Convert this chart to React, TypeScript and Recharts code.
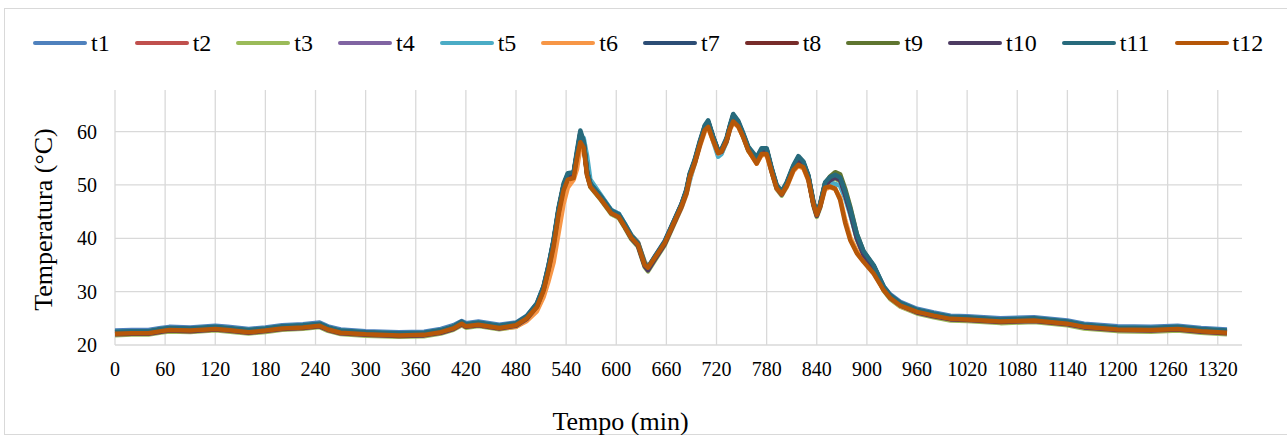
import React from "react";
import { LineChart, Line, XAxis, YAxis, CartesianGrid, Label } from "recharts";

const minutes = [
  0, 20, 40, 55, 65, 90, 120, 135, 160, 180, 200, 225, 245, 255, 270, 300, 340, 370, 390, 405, 415, 420, 435, 460, 480,
  493, 505, 513, 519, 525, 531, 537, 542, 549, 553, 557, 561, 565, 569, 582, 594, 603, 610, 618, 626, 634, 638, 646, 658, 678,
  684, 688, 694, 700, 706, 710, 716, 722, 726, 732, 736, 740, 746, 752, 758, 768, 774, 780, 786, 792, 798, 804, 812, 818, 824,
  830, 836, 840, 844, 850, 856, 862, 868, 874, 880, 888, 896, 908, 920, 928, 940, 960, 980, 1000, 1020, 1060, 1100, 1140, 1160, 1200,
  1240, 1272, 1300, 1331,
];

const t1 = [
  22.7, 22.8, 22.8, 23.2, 23.4, 23.3, 23.6, 23.4, 23.0, 23.3, 23.7, 23.9, 24.2, 23.5, 22.9, 22.6, 22.4, 22.5, 23.0, 23.7, 24.5, 24.1, 24.4, 23.8, 24.2,
  25.5, 27.8, 31.0, 35.0, 39.6, 45.4, 49.8, 51.8, 52.1, 55.8, 59.5, 58.2, 52.8, 50.4, 47.9, 45.3, 44.6, 42.8, 40.6, 39.2, 35.4, 34.6, 36.6, 39.5, 46.4,
  48.8, 51.6, 54.3, 57.7, 60.7, 61.6, 58.6, 55.9, 56.2, 58.3, 60.8, 62.8, 61.6, 59.3, 56.9, 54.8, 56.5, 56.5, 52.8, 49.6, 48.5, 50.1, 53.2, 54.9, 54.0,
  51.4, 46.6, 44.6, 46.1, 50.0, 51.0, 51.3, 50.8, 48.0, 44.9, 40.2, 37.3, 34.9, 31.0, 29.5, 28.1, 26.8, 26.1, 25.5, 25.4, 25.0, 25.2, 24.6, 24.0, 23.5,
  23.4, 23.6, 23.2, 22.9,
];
const t2 = [
  22.3, 22.4, 22.4, 22.8, 23.0, 22.9, 23.2, 23.0, 22.6, 22.9, 23.3, 23.5, 23.8, 23.1, 22.5, 22.2, 22.0, 22.1, 22.6, 23.3, 24.2, 23.7, 24.0, 23.4, 23.9,
  25.2, 27.5, 30.7, 34.6, 39.3, 45.2, 49.8, 51.8, 52.1, 55.7, 59.4, 57.8, 52.3, 50.0, 47.5, 45.0, 44.3, 42.5, 40.3, 38.9, 35.1, 34.3, 36.3, 39.2, 46.2,
  48.8, 51.8, 54.5, 57.8, 60.8, 61.7, 58.8, 56.2, 56.4, 58.4, 60.8, 62.8, 61.6, 59.3, 56.8, 54.8, 56.5, 56.5, 52.8, 49.6, 48.4, 50.1, 53.3, 55.0, 54.0,
  51.4, 46.5, 44.5, 46.2, 50.1, 51.1, 51.6, 51.1, 48.3, 45.1, 40.2, 37.1, 34.6, 30.6, 29.0, 27.6, 26.3, 25.6, 25.0, 24.9, 24.5, 24.7, 24.1, 23.5, 23.0,
  22.9, 23.1, 22.7, 22.4,
];
const t3 = [
  21.85, 21.95, 21.95, 22.35, 22.55, 22.45, 22.75, 22.55, 22.15, 22.45, 22.85, 23.05, 23.35, 22.65, 22.05, 21.75, 21.55, 21.65, 22.15, 22.85, 23.7, 23.25, 23.55, 22.95, 23.4,
  24.7, 26.9, 30.0, 33.9, 38.6, 44.6, 49.3, 51.4, 51.8, 55.3, 59.0, 57.5, 52.0, 49.6, 47.1, 44.5, 43.8, 42.0, 39.8, 38.4, 34.6, 33.8, 35.8, 38.7, 45.7,
  48.4, 51.4, 54.0, 57.4, 60.4, 61.3, 58.4, 55.8, 56.0, 58.0, 60.4, 62.5, 61.2, 58.9, 56.4, 54.4, 56.1, 56.1, 52.4, 49.2, 48.0, 49.7, 52.9, 54.6, 53.6,
  51.0, 46.1, 44.0, 45.7, 49.7, 50.7, 51.2, 50.7, 47.9, 44.7, 39.8, 36.7, 34.2, 30.2, 28.6, 27.2, 25.9, 25.2, 24.6, 24.5, 24.1, 24.3, 23.7, 23.1, 22.6,
  22.5, 22.7, 22.3, 22.0,
];
const t4 = [
  22.1, 22.2, 22.2, 22.6, 22.8, 22.7, 23.0, 22.8, 22.4, 22.7, 23.1, 23.3, 23.6, 22.9, 22.3, 22.0, 21.8, 21.9, 22.4, 23.1, 24.0, 23.5, 23.8, 23.2, 23.7,
  25.0, 27.3, 30.5, 34.4, 39.1, 45.0, 49.6, 51.6, 51.9, 55.5, 59.2, 57.6, 52.1, 49.8, 47.3, 44.8, 44.1, 42.3, 40.1, 38.7, 34.9, 34.1, 36.1, 39.0, 46.0,
  48.7, 51.7, 54.3, 57.7, 60.7, 61.6, 58.7, 56.1, 56.3, 58.3, 60.7, 62.8, 61.5, 59.2, 56.7, 54.7, 56.4, 56.4, 52.7, 49.5, 48.3, 50.0, 53.2, 54.9, 53.9,
  51.3, 46.4, 44.3, 46.0, 50.0, 51.0, 51.5, 51.0, 48.2, 45.0, 40.1, 37.0, 34.5, 30.5, 28.9, 27.5, 26.2, 25.5, 24.9, 24.8, 24.4, 24.6, 24.0, 23.4, 22.9,
  22.8, 23.0, 22.6, 22.3,
];
const t5 = [
  22.5, 22.6, 22.6, 23.0, 23.2, 23.1, 23.4, 23.2, 22.8, 23.1, 23.5, 23.7, 24.0, 23.3, 22.7, 22.4, 22.2, 22.3, 22.8, 23.5, 24.3, 23.9, 24.2, 23.6, 24.0,
  25.2, 27.4, 30.5, 34.4, 39.0, 45.0, 49.6, 51.6, 52.0, 55.5, 59.0, 58.8, 55.5, 51.0, 48.0, 45.3, 44.6, 42.8, 40.6, 39.2, 35.6, 34.7, 36.4, 39.2, 46.0,
  48.4, 50.8, 54.2, 57.6, 60.5, 61.5, 58.2, 55.3, 55.8, 58.2, 60.7, 62.7, 61.6, 59.4, 56.8, 54.9, 56.4, 56.5, 53.0, 49.9, 48.7, 50.1, 53.2, 54.8, 54.1,
  51.7, 46.8, 44.6, 46.2, 50.0, 50.4, 50.2, 49.8, 47.5, 44.5, 40.0, 37.0, 34.6, 30.8, 29.2, 27.8, 26.6, 25.9, 25.3, 25.2, 24.8, 25.0, 24.4, 23.8, 23.3,
  23.2, 23.4, 23.0, 22.7,
];
const t6 = [
  22.0, 22.1, 22.1, 22.5, 22.7, 22.6, 22.9, 22.7, 22.3, 22.6, 23.0, 23.2, 23.5, 22.8, 22.2, 21.9, 21.7, 21.8, 22.3, 23.0, 23.8, 23.4, 23.7, 23.1, 23.4,
  24.5, 26.3, 29.0, 32.0, 35.5, 41.0, 46.5, 49.5, 51.0, 53.0, 57.0, 57.5, 52.5, 50.0, 47.3, 44.8, 44.2, 42.5, 40.5, 39.2, 35.5, 34.6, 36.2, 39.0, 45.7,
  48.2, 51.2, 54.0, 57.2, 60.0, 60.7, 58.2, 55.9, 56.2, 58.2, 60.3, 61.7, 60.9, 59.0, 56.5, 54.0, 55.6, 55.6, 52.4, 49.3, 48.2, 49.6, 52.6, 53.6, 53.1,
  50.8, 46.4, 44.4, 45.8, 49.2, 49.6, 49.2, 47.6, 43.5, 40.2, 37.6, 35.9, 33.6, 30.4, 28.8, 27.3, 26.1, 25.4, 24.8, 24.7, 24.3, 24.5, 23.9, 23.3, 22.8,
  22.7, 22.9, 22.5, 22.2,
];
const t7 = [
  22.4, 22.5, 22.5, 22.9, 23.1, 23.0, 23.3, 23.1, 22.7, 23.0, 23.4, 23.6, 23.9, 23.2, 22.6, 22.3, 22.1, 22.2, 22.7, 23.4, 24.3, 23.8, 24.1, 23.5, 24.0,
  25.3, 27.6, 30.8, 34.8, 39.5, 45.5, 50.0, 52.0, 52.3, 56.0, 59.8, 58.0, 52.5, 50.2, 47.7, 45.1, 44.4, 42.6, 40.4, 39.0, 35.2, 34.4, 36.4, 39.3, 46.3,
  49.0, 52.0, 54.6, 58.0, 61.0, 61.9, 59.0, 56.4, 56.6, 58.6, 61.0, 63.1, 61.8, 59.5, 57.0, 55.0, 56.7, 56.7, 53.0, 49.8, 48.6, 50.3, 53.5, 55.2, 54.2,
  51.6, 46.7, 44.6, 46.3, 50.3, 51.3, 51.8, 51.3, 48.5, 45.3, 40.4, 37.3, 34.8, 30.8, 29.2, 27.8, 26.5, 25.8, 25.2, 25.1, 24.7, 24.9, 24.3, 23.7, 23.2,
  23.1, 23.3, 22.9, 22.6,
];
const t8 = [
  22.4, 22.4, 22.5, 22.9, 23.0, 23.0, 23.2, 23.1, 22.6, 22.9, 23.4, 23.5, 23.9, 23.2, 22.5, 22.3, 22.0, 22.2, 22.6, 23.4, 24.2, 23.8, 24.0, 23.5, 23.9,
  25.2, 27.5, 30.6, 34.6, 39.4, 45.3, 49.9, 51.9, 52.2, 55.8, 59.6, 57.9, 52.4, 50.1, 47.6, 45.0, 44.3, 42.5, 40.3, 38.9, 35.1, 34.4, 36.4, 39.2, 46.2,
  48.9, 51.9, 54.5, 57.9, 60.9, 61.8, 58.9, 56.3, 56.5, 58.5, 60.9, 63.0, 61.7, 59.4, 56.9, 54.9, 56.6, 56.6, 52.9, 49.7, 48.5, 50.2, 53.4, 55.1, 54.1,
  51.5, 46.6, 44.5, 46.2, 50.2, 51.2, 51.7, 51.2, 48.4, 45.2, 40.3, 37.2, 34.7, 30.7, 29.1, 27.7, 26.4, 25.7, 25.1, 25.0, 24.6, 24.8, 24.2, 23.6, 23.1,
  23.0, 23.2, 22.8, 22.5,
];
const t9 = [
  22.3, 22.4, 22.4, 22.8, 23.0, 22.9, 23.2, 23.0, 22.6, 22.9, 23.3, 23.5, 23.8, 23.1, 22.5, 22.2, 22.0, 22.1, 22.6, 23.3, 24.2, 23.7, 24.0, 23.4, 23.9,
  25.3, 27.6, 30.8, 34.7, 39.4, 45.4, 49.9, 51.9, 52.2, 55.9, 59.6, 57.9, 52.4, 50.1, 47.6, 45.0, 44.3, 42.5, 40.3, 38.9, 35.1, 34.3, 36.3, 39.2, 46.2,
  48.9, 51.9, 54.5, 57.9, 60.9, 61.8, 58.9, 56.3, 56.5, 58.5, 60.9, 63.0, 61.7, 59.4, 56.9, 54.9, 56.6, 56.6, 52.9, 49.7, 48.5, 50.2, 53.4, 55.1, 54.1,
  51.5, 46.6, 44.5, 46.3, 50.3, 51.6, 52.4, 52.0, 49.3, 46.0, 40.8, 37.5, 34.8, 30.7, 29.0, 27.6, 26.3, 25.6, 25.0, 24.9, 24.5, 24.7, 24.1, 23.5, 23.0,
  22.9, 23.1, 22.7, 22.4,
];
const t10 = [
  22.0, 22.1, 22.1, 22.5, 22.7, 22.6, 22.9, 22.7, 22.3, 22.6, 23.0, 23.2, 23.5, 22.8, 22.2, 21.9, 21.7, 21.8, 22.3, 23.0, 23.9, 23.4, 23.7, 23.1, 23.6,
  24.9, 27.2, 30.4, 34.3, 39.0, 45.0, 49.6, 51.6, 51.9, 55.5, 59.3, 57.6, 52.1, 49.8, 47.3, 44.7, 44.0, 42.2, 40.0, 38.6, 34.8, 34.0, 36.0, 38.9, 45.9,
  48.6, 51.6, 54.2, 57.6, 60.6, 61.5, 58.6, 56.0, 56.2, 58.2, 60.6, 62.7, 61.4, 59.1, 56.6, 54.6, 56.3, 56.3, 52.6, 49.4, 48.2, 49.9, 53.1, 54.8, 53.8,
  51.2, 46.3, 44.2, 45.9, 49.9, 50.9, 51.4, 50.9, 48.1, 44.9, 40.0, 36.9, 34.4, 30.4, 28.8, 27.4, 26.1, 25.4, 24.8, 24.7, 24.3, 24.5, 23.9, 23.3, 22.8,
  22.7, 22.9, 22.5, 22.2,
];
const t11 = [
  22.5, 22.6, 22.6, 23.0, 23.2, 23.1, 23.4, 23.2, 22.8, 23.1, 23.5, 23.7, 24.0, 23.3, 22.7, 22.4, 22.2, 22.3, 22.8, 23.5, 24.4, 23.9, 24.2, 23.6, 24.1,
  25.4, 27.8, 31.0, 35.0, 39.8, 45.8, 50.3, 52.2, 52.4, 56.5, 60.2, 58.2, 52.6, 50.3, 47.8, 45.2, 44.5, 42.7, 40.5, 39.1, 35.3, 34.5, 36.5, 39.4, 46.4,
  49.2, 52.2, 54.8, 58.2, 61.2, 62.1, 59.1, 56.5, 56.7, 58.8, 61.2, 63.3, 62.0, 59.7, 57.2, 55.2, 56.9, 56.9, 53.2, 50.0, 48.8, 50.5, 53.7, 55.4, 54.4,
  51.8, 46.9, 44.7, 46.5, 50.5, 51.5, 51.9, 51.4, 48.8, 45.6, 40.8, 37.6, 35.0, 31.0, 29.3, 27.9, 26.6, 25.9, 25.3, 25.2, 24.8, 25.0, 24.4, 23.8, 23.3,
  23.2, 23.4, 23.0, 22.7,
];
const t12 = [
  22.1, 22.2, 22.2, 22.6, 22.8, 22.7, 23.0, 22.8, 22.4, 22.7, 23.1, 23.3, 23.6, 22.9, 22.3, 22.0, 21.8, 21.9, 22.4, 23.1, 24.0, 23.5, 23.8, 23.2, 23.7,
  25.0, 27.1, 30.2, 34.0, 38.4, 44.5, 49.0, 51.0, 51.3, 55.0, 58.0, 57.0, 51.8, 49.7, 47.2, 44.7, 44.0, 42.2, 40.1, 38.8, 35.0, 34.5, 36.3, 39.1, 46.0,
  48.5, 51.5, 54.2, 57.5, 60.3, 60.9, 58.3, 56.0, 56.3, 58.3, 60.5, 61.9, 61.0, 59.0, 56.5, 54.0, 55.8, 55.8, 52.5, 49.4, 48.3, 49.8, 52.8, 53.8, 53.3,
  51.0, 46.4, 44.4, 46.0, 49.5, 49.7, 49.3, 47.2, 42.9, 39.7, 37.2, 35.6, 33.4, 30.3, 28.8, 27.4, 26.2, 25.5, 24.9, 24.8, 24.4, 24.6, 24.0, 23.4, 22.9,
  22.8, 23.0, 22.6, 22.3,
];

const seriesNames = ["t1", "t2", "t3", "t4", "t5", "t6", "t7", "t8", "t9", "t10", "t11", "t12"];
const seriesValues = [t1, t2, t3, t4, t5, t6, t7, t8, t9, t10, t11, t12];
const seriesColors = [
  "#4F81BD", "#C0504D", "#9BBB59", "#8064A2", "#4BACC6", "#F79646",
  "#2C4D75", "#772C2A", "#5F7530", "#4D3B62", "#276A7C", "#B65708",
];

const xTicks = [0, 60, 120, 180, 240, 300, 360, 420, 480, 540, 600, 660, 720, 780, 840, 900, 960, 1020, 1080, 1140, 1200, 1260, 1320];
const yTicks = [20, 30, 40, 50, 60];

const data = minutes.map((m, i) => {
  const row: Record<string, number> = { m };
  seriesNames.forEach((n, k) => {
    row[n] = seriesValues[k][i];
  });
  return row;
});

const FONT = "'Liberation Serif', 'Times New Roman', serif";

export default function App() {
  return (
    <div style={{ position: "absolute", left: 0, top: 0, width: 1287, height: 435, overflow: "hidden", background: "#fff", fontFamily: FONT }}>
      <div
        style={{
          position: "absolute",
          left: 4,
          top: 8,
          width: 1300,
          height: 425,
          borderLeft: "1.5px solid #d9d9d9",
          borderTop: "1.5px solid #d9d9d9",
          borderBottom: "1.5px solid #d9d9d9",
        }}
      />
      <div
        style={{
          position: "absolute",
          left: 33,
          top: 28,
          height: 30,
          display: "flex",
          alignItems: "center",
          fontSize: 24,
          color: "#000",
          whiteSpace: "nowrap",
        }}
      >
        {seriesNames.map((n, k) => (
          <div key={n} style={{ display: "flex", alignItems: "center", marginRight: 25 }}>
            <div style={{ width: 54, height: 4.5, borderRadius: 2.25, background: seriesColors[k], marginRight: 4 }} />
            <span>{n}</span>
          </div>
        ))}
      </div>
      <div style={{ position: "absolute", left: 0, top: 0 }}>
        <LineChart width={1287} height={435} data={data} margin={{ top: 90, right: 45, bottom: 0, left: 0 }}>
          <CartesianGrid stroke="#d9d9d9" strokeWidth={1.3} verticalValues={xTicks} horizontalValues={yTicks} />
          <XAxis
            dataKey="m"
            type="number"
            domain={[0, 1349]}
            ticks={xTicks}
            interval={0}
            height={90}
            axisLine={false}
            tickLine={false}
            tickSize={0}
            tickMargin={17}
            tick={{ fill: "#000", fontSize: 20, fontFamily: FONT }}
          >
            <Label value="Tempo (min)" position="center" dx={-58} dy={31} style={{ fill: "#000", fontSize: 26, fontFamily: FONT }} />
          </XAxis>
          <YAxis
            type="number"
            domain={[20, 67.8]}
            ticks={yTicks}
            interval={0}
            width={115}
            axisLine={false}
            tickLine={false}
            tickSize={0}
            tickMargin={18}
            allowDataOverflow
            tick={{ fill: "#000", fontSize: 20, fontFamily: FONT }}
          >
            <Label value="Temperatura (°C)" angle={-90} position="center" dx={-15} dy={2} style={{ fill: "#000", fontSize: 26, fontFamily: FONT }} />
          </YAxis>
          {seriesNames.map((n, k) => (
            <Line
              key={n}
              dataKey={n}
              type="linear"
              stroke={seriesColors[k]}
              strokeWidth={4.5}
              dot={false}
              activeDot={false}
              isAnimationActive={false}
              strokeLinejoin="round"
            />
          ))}
        </LineChart>
      </div>
    </div>
  );
}
